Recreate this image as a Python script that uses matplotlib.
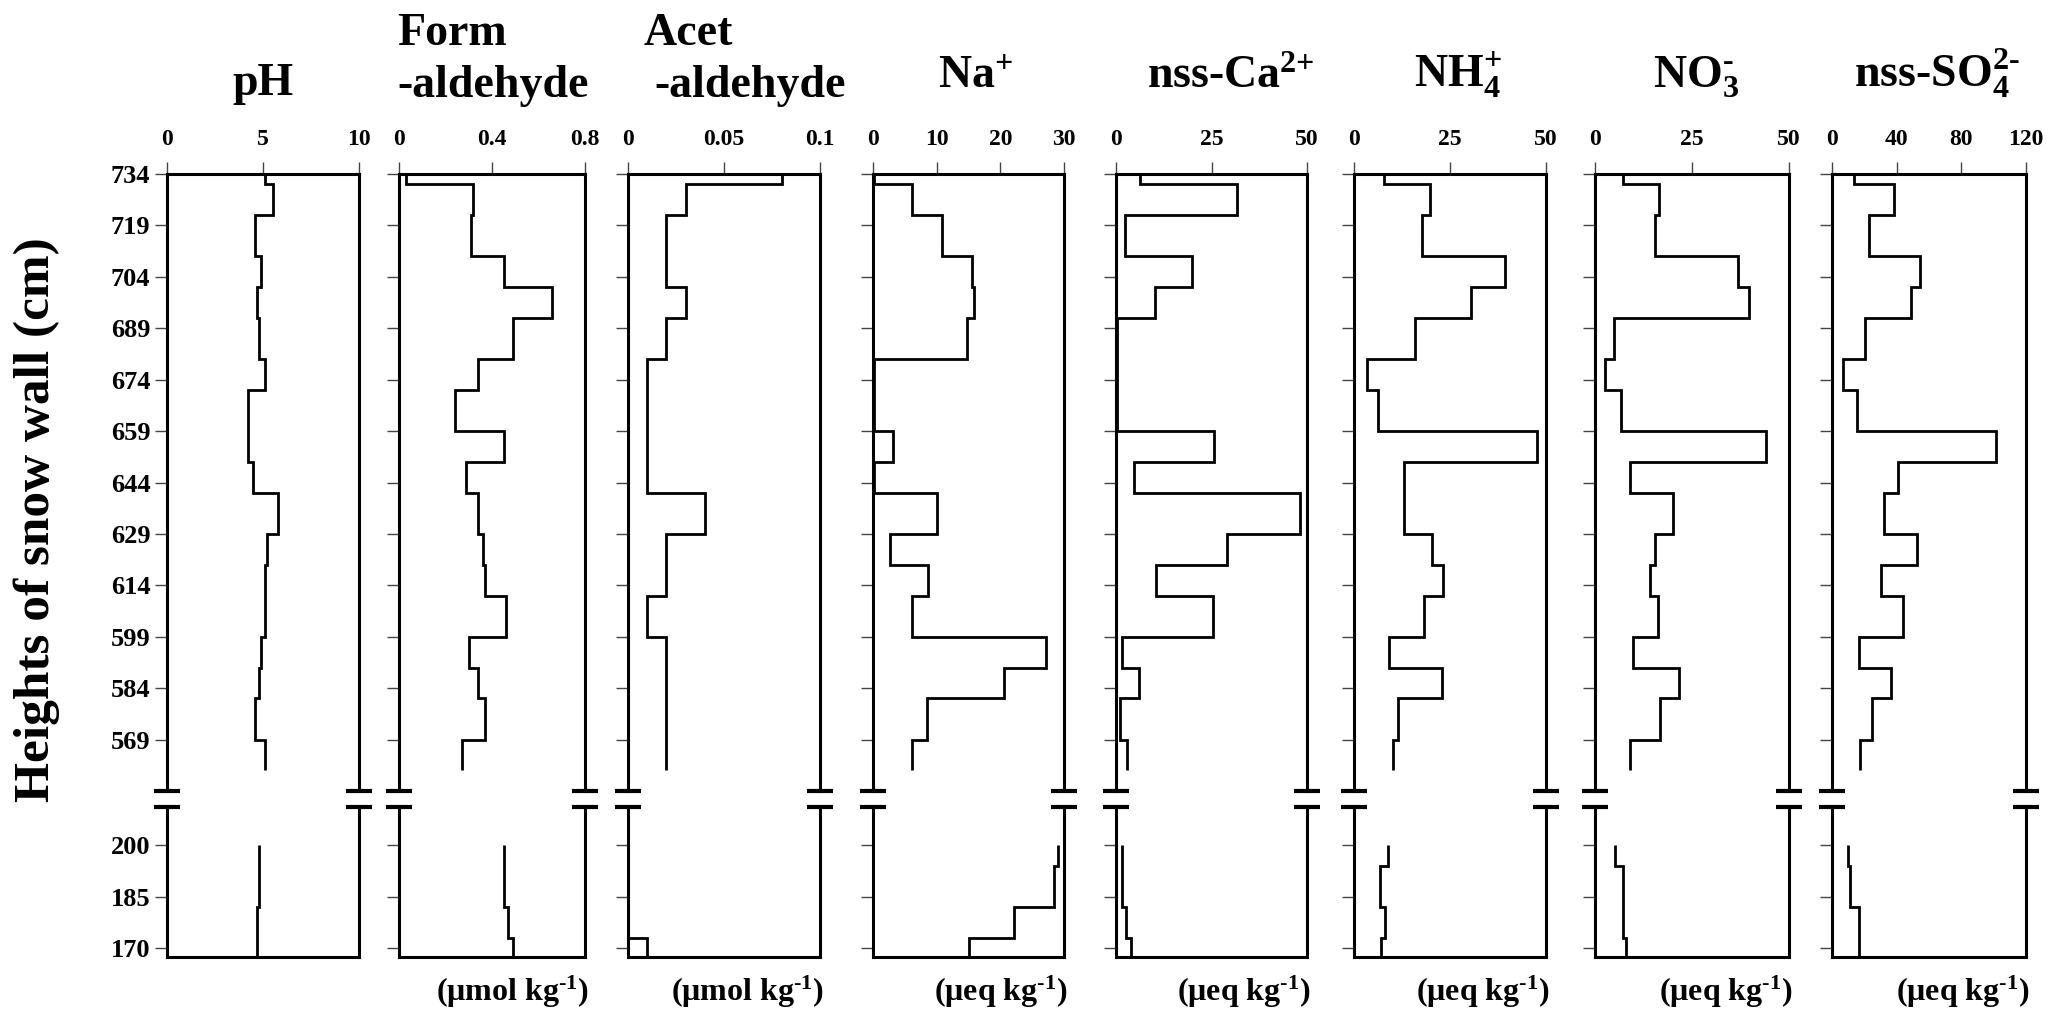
import numpy as np
import matplotlib
matplotlib.use('Agg')
import matplotlib.pyplot as plt

plt.rcParams['font.family'] = ['Liberation Serif', 'DejaVu Serif']
plt.rcParams['font.weight'] = 'bold'
plt.rcParams['mathtext.fontset'] = 'custom'
plt.rcParams['mathtext.rm'] = 'Liberation Serif:bold'
plt.rcParams['mathtext.it'] = 'Liberation Serif:bold'
plt.rcParams['mathtext.bf'] = 'Liberation Serif:bold'
plt.rcParams['mathtext.default'] = 'rm'

# sample boundaries (cm), upper and lower part of the snow wall
upper_edges = [734, 731, 722, 710, 701, 692, 680, 671, 659, 650, 641, 629, 620, 611, 599, 590, 581, 569, 560]
lower_edges = [200, 194, 182, 173, 167.5]

# values per sample, top to bottom
ph_up = [5.1, 5.5, 4.6, 4.9, 4.7, 4.8, 5.1, 4.2, 4.2, 4.5, 5.8, 5.2, 5.1, 5.1, 4.9, 4.8, 4.6, 5.1]
form_up = [0.03, 0.32, 0.31, 0.45, 0.66, 0.49, 0.34, 0.24, 0.45, 0.29, 0.34, 0.36, 0.37, 0.46, 0.30, 0.34, 0.37, 0.27]
acet_up = [0.08, 0.03, 0.02, 0.02, 0.03, 0.02, 0.01, 0.01, 0.01, 0.01, 0.04, 0.02, 0.02, 0.01, 0.02, 0.02, 0.02, 0.02]
na_up = [0.2, 6.1, 10.9, 15.6, 15.9, 14.7, 0.15, 0.15, 3.1, 0.2, 10.1, 2.6, 8.7, 6.1, 27.1, 20.6, 8.5, 6.2]
ca_up = [6.2, 31.6, 2.4, 19.8, 10.1, 0.2, 0.2, 0.2, 25.7, 4.6, 48.1, 29.0, 10.5, 25.5, 1.7, 6.0, 1.1, 2.9]
nh4_up = [7.7, 19.8, 17.8, 39.2, 30.4, 15.9, 3.3, 6.2, 47.7, 13.0, 13.0, 20.4, 23.3, 18.3, 9.1, 23.0, 11.4, 10.1]
no3_up = [7.3, 16.5, 15.5, 36.8, 39.6, 5.0, 2.7, 6.6, 44.1, 9.1, 20.2, 15.5, 14.3, 16.3, 9.7, 21.6, 16.8, 8.9]
so4_up = [13.4, 38.1, 23.0, 54.2, 49.0, 20.5, 6.6, 15.5, 101.6, 40.8, 32.3, 52.3, 30.4, 44.1, 17.0, 36.8, 24.6, 17.2]

ph_low = [4.8, 4.8, 4.7, 4.7]
form_low = [0.45, 0.45, 0.47, 0.49]
acet_low = [np.nan, np.nan, np.nan, 0.01]
na_low = [29.0, 28.5, 22.1, 15.0]
ca_low = [1.7, 1.7, 2.5, 3.8]
nh4_low = [8.9, 6.8, 8.0, 7.0]
no3_low = [5.2, 7.1, 7.1, 7.9]
so4_low = [9.9, 11.4, 16.4, 16.4]

xlims = [10, 0.8, 0.1, 30, 50, 50, 50, 120]
xticks = [[0, 5, 10], [0, 0.4, 0.8], [0, 0.05, 0.1], [0, 10, 20, 30],
          [0, 25, 50], [0, 25, 50], [0, 25, 50], [0, 40, 80, 120]]
xticklabels = [['0', '5', '10'], ['0', '0.4', '0.8'], ['0', '0.05', '0.1'], ['0', '10', '20', '30'],
               ['0', '25', '50'], ['0', '25', '50'], ['0', '25', '50'], ['0', '40', '80', '120']]
yticks_up = [734, 719, 704, 689, 674, 659, 644, 629, 614, 599, 584, 569]
yticks_low = [200, 185, 170]

HY = '\u2010'  # short hyphen instead of math minus
mol_unit = r'($\mu$mol kg$^{' + HY + '1}$)'
eq_unit = r'($\mu$eq kg$^{' + HY + '1}$)'
units = [None, mol_unit, mol_unit, eq_unit, eq_unit, eq_unit, eq_unit, eq_unit]

upper = [ph_up, form_up, acet_up, na_up, ca_up, nh4_up, no3_up, so4_up]
lower = [ph_low, form_low, acet_low, na_low, ca_low, nh4_low, no3_low, so4_low]

# layout in pixels
W, H = 2065, 1019
lefts = [167, 399, 628, 873, 1116, 1354, 1595, 1832]
rights = [359, 585, 820, 1064, 1307, 1546, 1789, 2026]
up_top, up_bot = 174, 791
low_top, low_bot = 807, 957

fig = plt.figure(figsize=(W / 100, H / 100), dpi=100)

LW = 2.0
SPW = 2.2


def draw_profile(ax, edges, vals):
    vals = np.asarray(vals, float)
    edges = np.asarray(edges, float)
    ok = ~np.isnan(vals)
    i = 0
    while i < len(vals):
        if not ok[i]:
            i += 1
            continue
        j = i
        while j < len(vals) and ok[j]:
            j += 1
        base = None if i == 0 else 0
        ax.stairs(vals[i:j], edges[i:j + 1], orientation='horizontal',
                  baseline=base, color='black', lw=LW)
        i = j


def break_marks(ax, y, wpx):
    h = 13 / wpx
    for x0 in (0, 1):
        ax.plot([x0 - h, x0 + h], [y, y], transform=ax.transAxes, color='black',
                lw=3.0, clip_on=False, solid_capstyle='butt')


for k in range(8):
    l, r = lefts[k], rights[k]
    wpx = r - l
    ax_u = fig.add_axes([l / W, 1 - up_bot / H, wpx / W, (up_bot - up_top) / H])
    ax_l = fig.add_axes([l / W, 1 - low_bot / H, wpx / W, (low_bot - low_top) / H])

    draw_profile(ax_u, upper_edges, upper[k])
    draw_profile(ax_l, lower_edges, lower[k])

    for ax in (ax_u, ax_l):
        ax.set_xlim(0, xlims[k])
        for s in ax.spines.values():
            s.set_linewidth(SPW)
        ax.tick_params(axis='y', direction='out', length=9, width=1.0, pad=3,
                       labelsize=19, color='#444444')
    ax_u.set_ylim(554, 734)
    ax_l.set_ylim(167.5, 211)
    ax_u.spines['bottom'].set_visible(False)
    ax_l.spines['top'].set_visible(False)

    ax_u.xaxis.tick_top()
    ax_u.set_xticks(xticks[k])
    ax_u.set_xticklabels(xticklabels[k])
    ax_u.tick_params(axis='x', direction='out', length=9, width=1.0, pad=8,
                     labelsize=17, color='#444444')
    ax_l.set_xticks([])

    ax_u.set_yticks(yticks_up)
    ax_l.set_yticks(yticks_low)
    if k > 0:
        ax_u.set_yticklabels([])
        ax_l.set_yticklabels([])

    break_marks(ax_u, 0, wpx)
    break_marks(ax_l, 1, wpx)

    if units[k]:
        fig.text((r + 4) / W, 1 - 992 / H, units[k], ha='right', va='center', fontsize=23)

# column titles
TS = 33
fig.text(263 / W, 1 - 95 / H, 'pH', ha='center', va='baseline', fontsize=TS)
fig.text(397 / W, 1 - 45 / H, 'Form', ha='left', va='baseline', fontsize=TS)
fig.text(397 / W, 1 - 97 / H, '-aldehyde', ha='left', va='baseline', fontsize=TS)
fig.text(643 / W, 1 - 45 / H, 'Acet', ha='left', va='baseline', fontsize=TS)
fig.text(654 / W, 1 - 97 / H, '-aldehyde', ha='left', va='baseline', fontsize=TS)
fig.text(976 / W, 1 - 88 / H, r'Na$^{{+}}$', ha='center', va='baseline', fontsize=TS)
fig.text(1231 / W, 1 - 88 / H, r'nss-Ca$^{2{+}}$', ha='center', va='baseline', fontsize=TS)
fig.text(1458 / W, 1 - 88 / H, r'NH$_{4}^{{+}}$', ha='center', va='baseline', fontsize=TS)
fig.text(1696 / W, 1 - 88 / H, r'NO$_{3}^{' + HY + '}$', ha='center', va='baseline', fontsize=TS)
fig.text(1937 / W, 1 - 88 / H, r'nss-SO$_{4}^{2' + HY + '}$', ha='center', va='baseline', fontsize=TS)

fig.text(37 / W, 1 - 520 / H, 'Heights of snow wall (cm)', rotation=90,
         ha='center', va='center', fontsize=37)

fig.savefig('out.png', dpi=100)
